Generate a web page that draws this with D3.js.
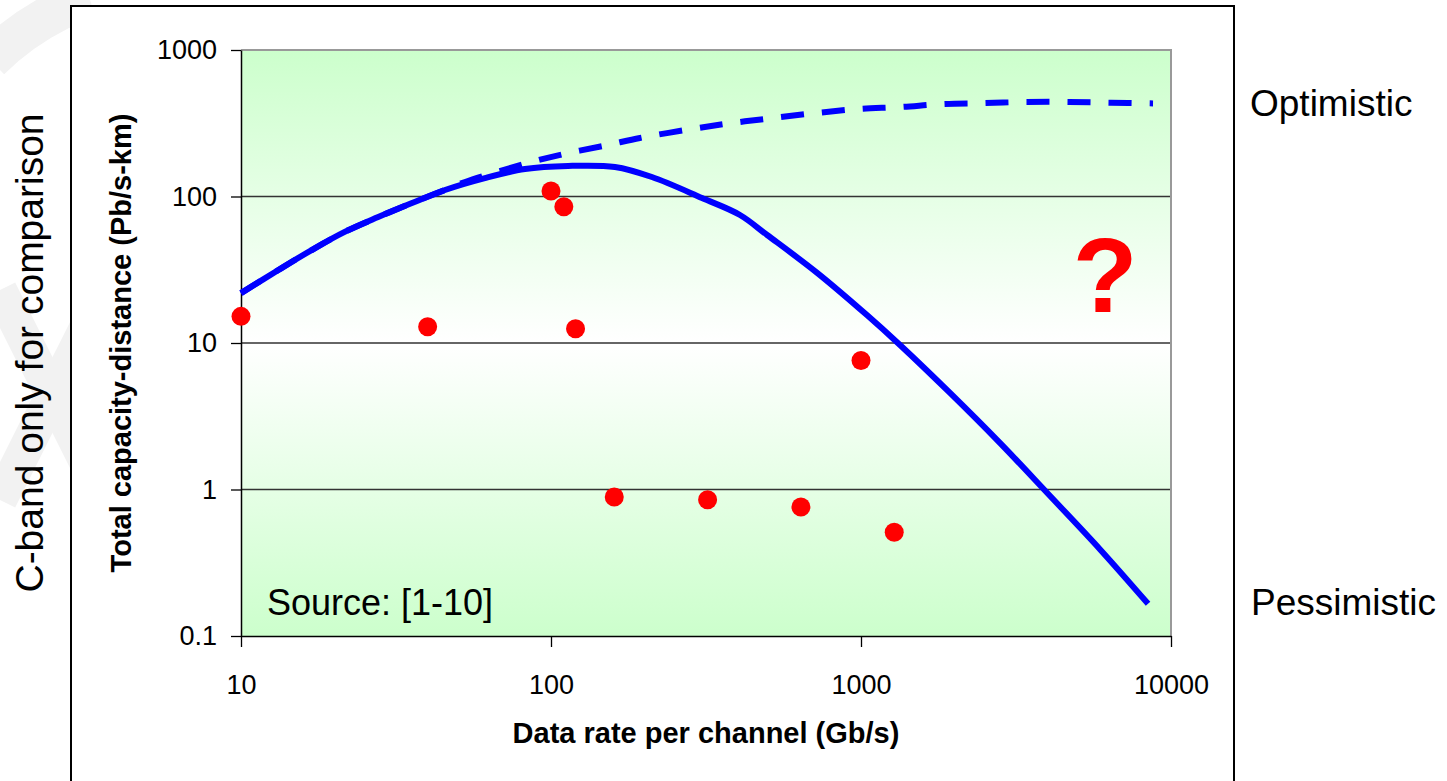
<!DOCTYPE html>
<html>
<head>
<meta charset="utf-8">
<script src="https://cdn.jsdelivr.net/npm/d3@7"></script>
<style>
  html, body { margin: 0; padding: 0; background: #ffffff; }
  svg { display: block; font-family: Arial, "Liberation Sans", sans-serif; }
</style>
</head>
<body>
<svg id="chart" width="1447" height="781"></svg>
<script>
// ---------- data ----------
const xTicks = [10, 100, 1000, 10000];
const yTicks = [0.1, 1, 10, 100, 1000];
const gridValues = [1, 10, 100];

// Pessimistic (solid) curve
const solidRate = [10, 13.2, 16.9, 21.6, 27.7, 35.6, 45.5, 61.2, 82.4, 113.5, 160.8, 211.6, 307, 407, 498, 722, 1045, 1336, 1937, 2806, 3983, 5906, 8433];
const solidCap  = [21.9, 31.5, 43.1, 57.3, 72.4, 90.2, 110.8, 133.6, 154, 161.6, 159, 135.8, 97.7, 74.8, 54.6, 30.1, 15.5, 9.69, 4.56, 2.08, 0.95, 0.39, 0.166];

// Optimistic (dashed) curve
const dashedRate = [10, 13.2, 16.9, 21.6, 27.7, 35.6, 45.5, 52.8, 83.8, 113.5, 152.8, 193.6, 285, 386, 524, 721, 986, 1337, 1840, 2512, 3404, 4688, 6397, 8750];
const dashedCap  = [21.9, 31.5, 43.1, 57.3, 72.4, 90.2, 110.8, 125.6, 169, 198, 225, 251, 289, 318, 344, 372, 396, 408, 428, 434, 442, 442, 437, 432];

// Reported experiments (red dots)
const expRate = [10, 40, 100, 110, 120, 160, 320, 640, 1000, 1280];
const expCap  = [15.2, 12.9, 109, 85, 12.5, 0.89, 0.85, 0.76, 7.6, 0.51];

// ---------- layout ----------
const svg = d3.select("#chart");
const L = 241, R = 1171, T = 50, B = 636;

const x = d3.scaleLog().domain([10, 10000]).range([L, R]);
const y = d3.scaleLog().domain([0.1, 1000]).range([B, T]);

// faint watermark behind the frame
const wm = svg.append("g").attr("fill", "none").attr("stroke", "#f2f2f2").attr("stroke-linecap", "butt");
wm.append("path").attr("d", "M-10,60 Q20,30 60,10 L90,0").attr("stroke-width", 40);
wm.append("path").attr("d", "M0,290 L90,470").attr("stroke-width", 34);
wm.append("path").attr("d", "M0,500 L90,320").attr("stroke-width", 34);

// outer frame
svg.append("rect")
  .attr("x", 71).attr("y", 6).attr("width", 1163).attr("height", 820)
  .attr("fill", "#ffffff").attr("stroke", "#000").attr("stroke-width", 2);

// gradient
const defs = svg.append("defs");
const grad = defs.append("linearGradient").attr("id", "bg")
  .attr("x1", 0).attr("y1", 0).attr("x2", 0).attr("y2", 1);
grad.append("stop").attr("offset", "0%").attr("stop-color", "#ccffcc");
grad.append("stop").attr("offset", "50%").attr("stop-color", "#ffffff");
grad.append("stop").attr("offset", "100%").attr("stop-color", "#ccffcc");

svg.append("rect")
  .attr("x", L).attr("y", T).attr("width", R - L).attr("height", B - T)
  .attr("fill", "url(#bg)");

// gridlines
svg.append("g").selectAll("line").data(gridValues).join("line")
  .attr("x1", L).attr("x2", R)
  .attr("y1", d => y(d)).attr("y2", d => y(d))
  .attr("stroke", "#333").attr("stroke-width", 1.3);

// top and right border (gray)
svg.append("path")
  .attr("d", `M${L},${T}H${R}V${B}`)
  .attr("fill", "none").attr("stroke", "#999").attr("stroke-width", 2);

// axes
const yAxis = d3.axisLeft(y).tickValues(yTicks).tickFormat(d => String(d))
  .tickSize(10).tickPadding(14).tickSizeOuter(0);
const gy = svg.append("g").attr("transform", `translate(${L},0)`).call(yAxis);
gy.select(".domain").attr("stroke", "#000").attr("stroke-width", 1.5);
gy.selectAll(".tick line").attr("stroke", "#000").attr("stroke-width", 1.3);
gy.selectAll(".tick text").attr("font-size", 27).attr("fill", "#000")
  .attr("font-family", "Arial, 'Liberation Sans', sans-serif");

const xAxis = d3.axisBottom(x).tickValues(xTicks).tickFormat(d => String(d))
  .tickSize(11).tickPadding(28).tickSizeOuter(0);
const gx = svg.append("g").attr("transform", `translate(0,${B})`).call(xAxis);
gx.select(".domain").attr("stroke", "#000").attr("stroke-width", 1.5);
gx.selectAll(".tick line").attr("stroke", "#000").attr("stroke-width", 1.3);
gx.selectAll(".tick text").attr("font-size", 27).attr("fill", "#000")
  .attr("font-family", "Arial, 'Liberation Sans', sans-serif");

// lines
const line = d3.line().x(d => x(d[0])).y(d => y(d[1])).curve(d3.curveCatmullRom.alpha(0.5));
svg.append("path")
  .datum(dashedRate.map((r, i) => [r, dashedCap[i]]))
  .attr("d", line).attr("fill", "none")
  .attr("stroke", "#0000ff").attr("stroke-width", 6)
  .attr("stroke-dasharray", "23,18");
svg.append("path")
  .datum(solidRate.map((r, i) => [r, solidCap[i]]))
  .attr("d", line).attr("fill", "none")
  .attr("stroke", "#0000ff").attr("stroke-width", 6);

// dots
svg.append("g").selectAll("circle")
  .data(expRate.map((r, i) => [r, expCap[i]]))
  .join("circle")
  .attr("cx", d => x(d[0])).attr("cy", d => y(d[1]))
  .attr("r", 9.5).attr("fill", "#ff0000");

// texts
svg.append("text").attr("x", 267).attr("y", 615)
  .attr("font-size", 36).attr("fill", "#000").text("Source: [1-10]");

svg.append("text").attr("x", 1105).attr("y", 312)
  .attr("text-anchor", "middle").attr("font-size", 106).attr("font-weight", "bold")
  .attr("fill", "#ff0000").text("?");

svg.append("text").attr("x", (L + R) / 2).attr("y", 743)
  .attr("text-anchor", "middle").attr("font-size", 29).attr("font-weight", "bold")
  .attr("fill", "#000").text("Data rate per channel (Gb/s)");

svg.append("text")
  .attr("transform", `translate(131,${(T + B) / 2}) rotate(-90)`)
  .attr("text-anchor", "middle").attr("font-size", 29).attr("font-weight", "bold")
  .attr("fill", "#000").text("Total capacity-distance (Pb/s-km)");

svg.append("text")
  .attr("transform", "translate(43,353) rotate(-90)")
  .attr("text-anchor", "middle").attr("font-size", 39)
  .attr("fill", "#000").text("C-band only for comparison");

svg.append("text").attr("x", 1250).attr("y", 116)
  .attr("font-size", 37).attr("fill", "#000").text("Optimistic");
svg.append("text").attr("x", 1251).attr("y", 615)
  .attr("font-size", 37).attr("fill", "#000").text("Pessimistic");
</script>
</body>
</html>
